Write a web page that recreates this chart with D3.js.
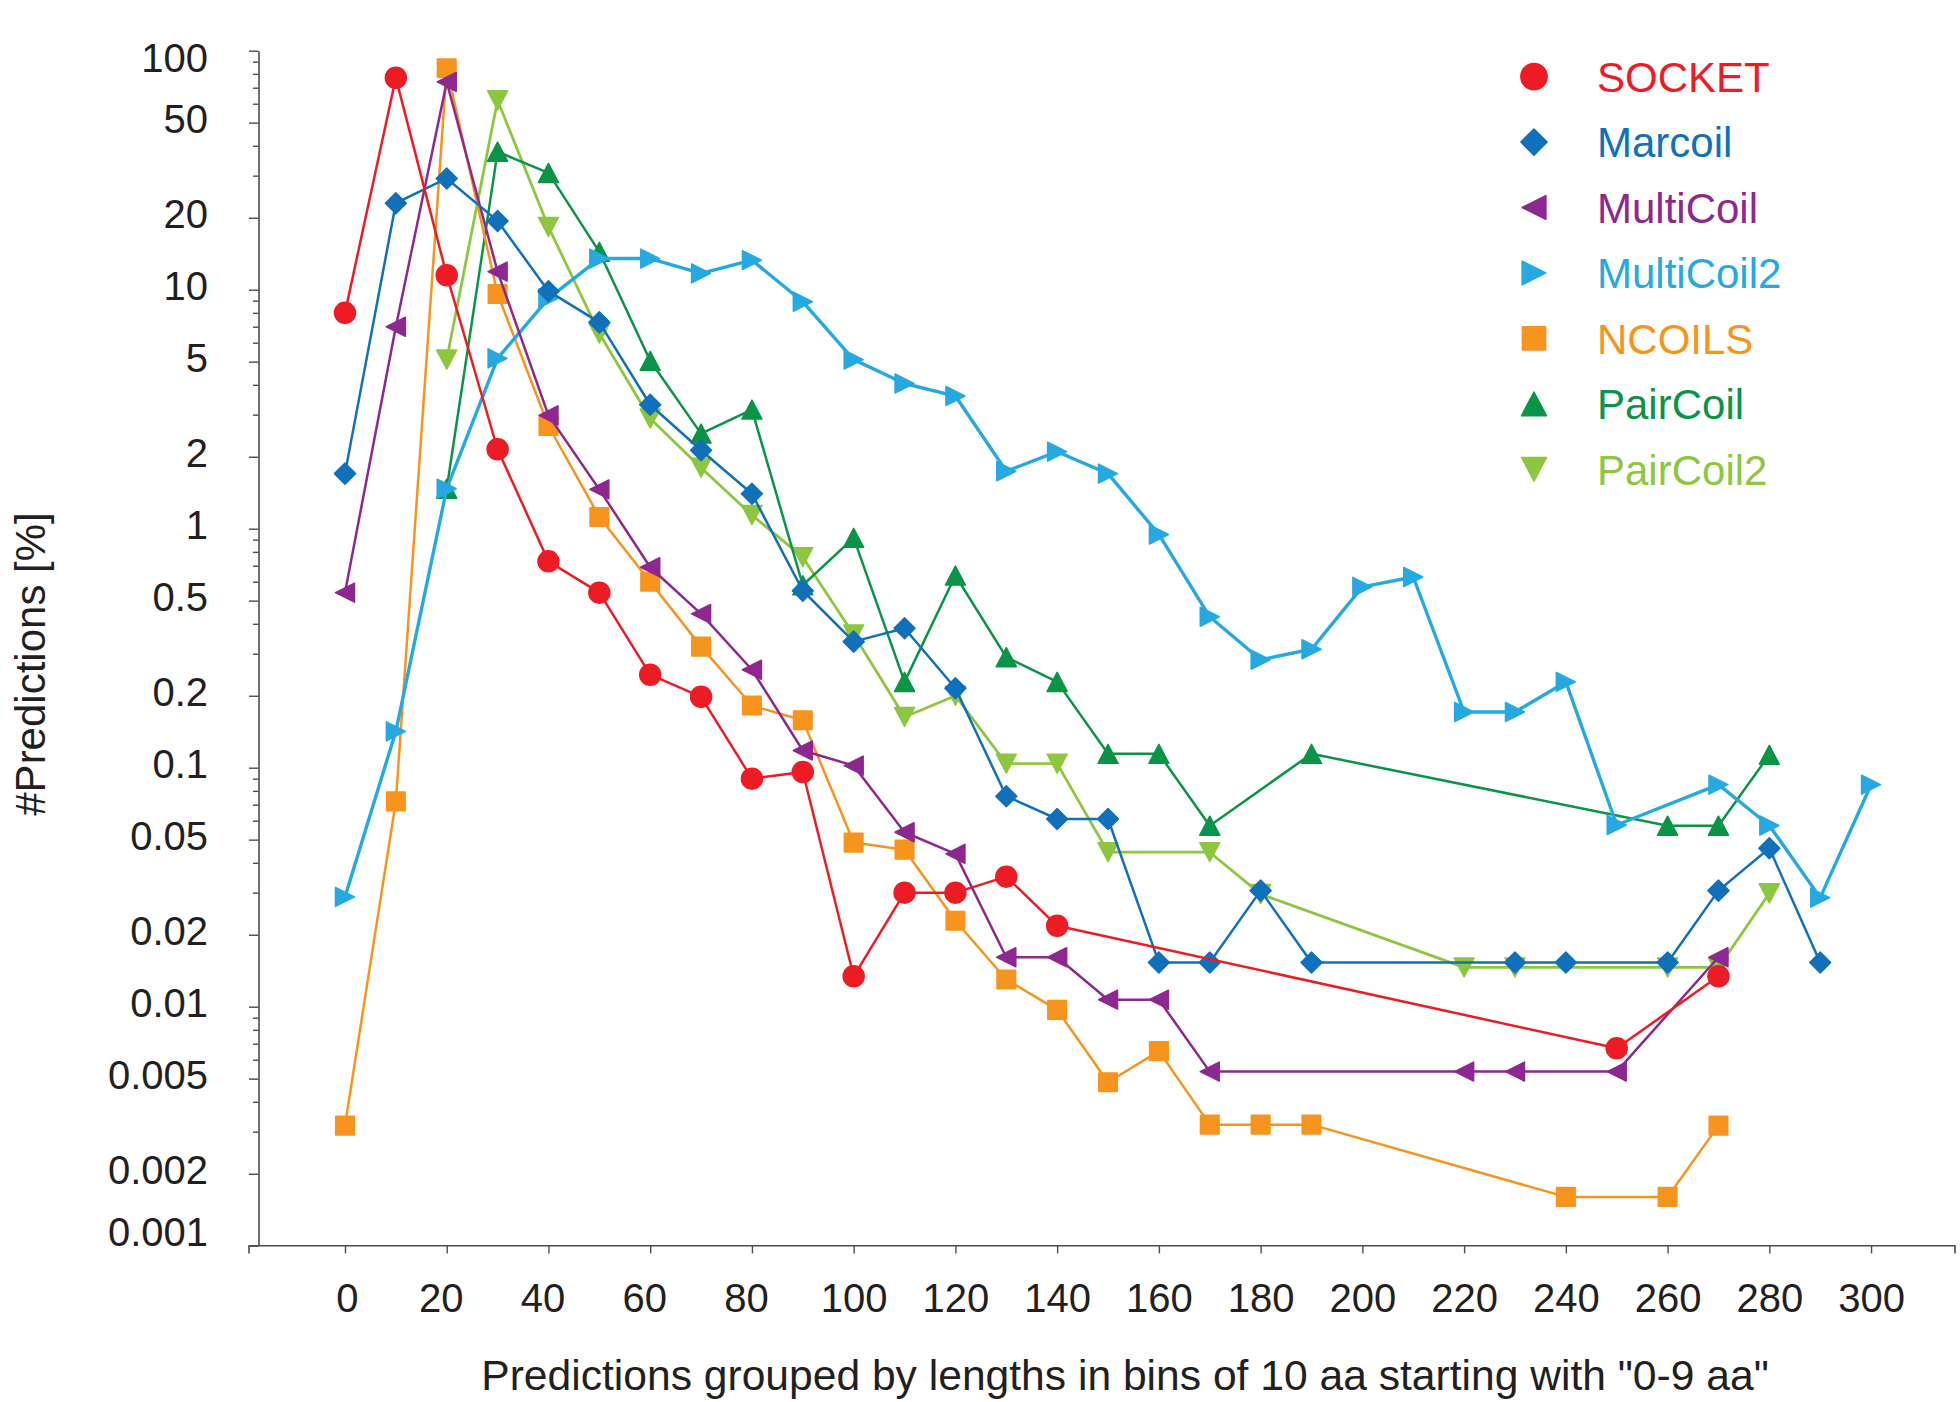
<!DOCTYPE html>
<html>
<head>
<meta charset="utf-8">
<script src="https://cdn.jsdelivr.net/npm/d3@7"></script>
<style>
  body { margin: 0; background: #fff; }
  text { font-family: "Liberation Sans", Arial, Helvetica, sans-serif; }
</style>
</head>
<body>
<svg id="chart" width="1960" height="1402"></svg>
<script>
// bins of 10 aa, value = % of predictions (null = no point in that bin)
var bins = [0,10,20,30,40,50,60,70,80,90,100,110,120,130,140,150,160,170,180,190,200,210,220,230,240,250,260,270,280,290,300];

var socket     = [8.0,77,11.5,2.15,0.73,0.54,0.245,0.198,0.090,0.096,0.0134,0.030,0.030,0.035,0.0218,null,null,null,null,null,null,null,null,null,null,0.0067,null,0.0134,null,null,null];
var marcoil    = [1.70,23.0,29.2,19.4,9.86,7.3,3.3,2.13,1.40,0.55,0.337,0.383,0.215,0.076,0.061,0.061,0.0153,0.0153,0.0306,0.0153,null,null,null,0.0153,0.0153,null,0.0153,0.0306,0.046,0.0153,null];
var multicoil  = [0.54,7.0,74,11.9,2.98,1.46,0.69,0.44,0.257,0.118,0.102,0.0537,0.0436,0.0161,0.0161,0.0107,0.0107,0.00535,null,null,null,null,0.00535,0.00535,null,0.00535,null,0.0161,null,null,null];
var multicoil2 = [0.0288,0.142,1.47,5.16,9.2,13.5,13.5,11.7,13.3,8.9,5.1,4.05,3.59,1.74,2.10,1.70,0.946,0.428,0.283,0.313,0.571,0.628,0.171,0.171,0.2285,0.0576,null,0.0849,0.0573,0.0286,0.0849];
var ncoils     = [0.00318,0.0723,84.4,9.6,2.69,1.12,0.60,0.321,0.182,0.158,0.0486,0.0454,0.0229,0.0130,0.0097,0.00483,0.00652,0.00321,0.00321,0.00321,null,null,null,null,0.0016,null,0.0016,0.00318,null,null,null];
var paircoil   = [null,null,1.47,37.8,30.8,14.4,5.04,2.5,3.15,0.58,0.916,0.2286,0.637,0.29,0.2286,0.1143,0.1143,0.0572,null,0.1143,null,null,null,null,null,null,0.0572,0.0572,0.1132,null,null];
var paircoil2  = [null,null,5.1,62,18.3,6.56,2.89,1.8,1.14,0.76,0.361,0.163,0.20,0.104,0.104,0.0443,null,0.0443,0.0296,null,null,null,0.0146,0.0146,null,null,0.0146,0.0146,0.0298,null,null];

var names  = ["SOCKET","Marcoil","MultiCoil","MultiCoil2","NCOILS","PairCoil","PairCoil2"];
var values = [socket, marcoil, multicoil, multicoil2, ncoils, paircoil, paircoil2];
var shapes = ["circle","diamond","left","right","square","up","down"];
var colours = ["#ED1C24","#1170BA","#8E278F","#26A9E0","#F7941E","#0A9447","#8DC63F"];
var widths = [2.5,2.5,2.5,3.4,2.5,2.5,2.8];

var xTicks = [0,20,40,60,80,100,120,140,160,180,200,220,240,260,280,300];
var yTicks = [100,50,20,10,5,2,1,0.5,0.2,0.1,0.05,0.02,0.01,0.005,0.002,0.001];
var yTickLabels = ["100","50","20","10","5","2","1","0.5","0.2","0.1","0.05","0.02","0.01","0.005","0.002","0.001"];

var svg = d3.select("#chart");

var x = d3.scaleLinear().domain([-17, 316.5]).range([258.5, 1955]);
var y = d3.scaleLog().domain([0.001, 100]).range([1245.7, 50.7]);

function markerPath(shape, s) {
  if (shape == "circle") return "M" + (-10.5*s) + ",0a" + 10.5*s + "," + 10.5*s + " 0 1,0 " + 21*s + ",0a" + 10.5*s + "," + 10.5*s + " 0 1,0 " + (-21*s) + ",0Z";
  if (shape == "diamond") return "M0," + (-10.5*s) + "L" + 10.5*s + ",0L0," + 10.5*s + "L" + (-10.5*s) + ",0Z";
  if (shape == "square") return "M" + (-9.3*s) + "," + (-9.3*s) + "h" + 18.6*s + "v" + 18.6*s + "h" + (-18.6*s) + "Z";
  if (shape == "left") return "M" + (-9.5*s) + ",0L" + 9.5*s + "," + (-9.5*s) + "L" + 9.5*s + "," + 9.5*s + "Z";
  if (shape == "right") return "M" + 9.5*s + ",0L" + (-9.5*s) + "," + (-9.5*s) + "L" + (-9.5*s) + "," + 9.5*s + "Z";
  if (shape == "up") return "M0," + (-9.5*s) + "L" + 10*s + "," + 9.5*s + "L" + (-10*s) + "," + 9.5*s + "Z";
  return "M0," + 9.5*s + "L" + 10*s + "," + (-9.5*s) + "L" + (-10*s) + "," + (-9.5*s) + "Z";
}

// y axis: all log ticks, labels only on 1-2-5
var yAxis = d3.axisLeft(y)
  .tickValues(y.ticks())
  .tickSize(5)
  .tickSizeOuter(0)
  .tickPadding(45.5)
  .tickFormat(function(d) {
    var i = yTicks.findIndex(function(t) { return Math.abs(t - d) / t < 1e-6; });
    return i < 0 ? "" : yTickLabels[i];
  });

var gy = svg.append("g").attr("transform", "translate(" + 258.5 + ",0)").call(yAxis);
gy.select(".domain").attr("stroke", "#4d4d4d").attr("stroke-width", 1.6);
gy.selectAll(".tick line").attr("stroke", "#4d4d4d").attr("stroke-width", 1.4)
  .attr("x2", function(d) {
    return yTicks.some(function(t) { return Math.abs(t - d) / t < 1e-6; }) ? -9.5 : -5.5;
  });
gy.selectAll(".tick text")
  .attr("fill", "#231F20")
  .style("font-size", "40px")
  .attr("dy", function(d) {
    if (Math.abs(d - 100) < 1e-6) return "0.52em";
    if (Math.abs(d - 0.001) < 1e-9) return "0em";
    return "0.25em";
  });

// x axis
var xAxis = d3.axisBottom(x)
  .tickValues(xTicks)
  .tickSize(7.7)
  .tickSizeOuter(7.7)
  .tickPadding(30)
  .tickFormat(d3.format("d"));

var gx = svg.append("g").attr("transform", "translate(0," + 1245.7 + ")").call(xAxis);
gx.select(".domain").attr("stroke", "#4d4d4d").attr("stroke-width", 1.6)
  .attr("d", "M" + 249 + ",7.7V0H" + 1955 + "V7.7");
gx.selectAll(".tick line").attr("stroke", "#4d4d4d").attr("stroke-width", 1.4);
gx.selectAll(".tick text")
  .attr("fill", "#231F20")
  .style("font-size", "40px")
  .attr("dx", function(d) { return (d > 0 && d < 100) ? -6 : (d == 0 ? 2 : 0); });

// axis titles
svg.append("text")
  .attr("x", 1125).attr("y", 1390)
  .attr("text-anchor", "middle")
  .attr("fill", "#231F20")
  .style("font-size", "42.6px")
  .text("Predictions grouped by lengths in bins of 10 aa starting with \"0-9 aa\"");

svg.append("text")
  .attr("transform", "translate(45,664) rotate(-90)")
  .attr("text-anchor", "middle")
  .attr("fill", "#231F20")
  .style("font-size", "42px")
  .text("#Predictions [%]");

// series, drawn last legend entry first so SOCKET ends up on top
var line = d3.line()
  .x(function(d) { return x(d.bin); })
  .y(function(d) { return y(d.v); });

d3.range(names.length - 1, -1, -1).forEach(function(k) {
  var pts = bins.map(function(b, i) { return { bin: b, v: values[k][i] }; })
    .filter(function(d) { return d.v != null; });

  var g = svg.append("g").attr("class", "series " + names[k]);

  g.append("path")
    .datum(pts)
    .attr("d", line)
    .attr("fill", "none")
    .attr("stroke", colours[k])
    .attr("stroke-width", widths[k])
    .attr("stroke-linejoin", "round");

  g.selectAll("path.mark")
    .data(pts)
    .enter()
    .append("path")
    .attr("class", "mark")
    .attr("transform", function(d) { return "translate(" + x(d.bin) + "," + y(d.v) + ")"; })
    .attr("d", markerPath(shapes[k], 1))
    .attr("fill", colours[k])
    .attr("stroke", colours[k])
    .attr("stroke-width", 1.5)
    .attr("stroke-linejoin", "round");
});

// legend
var legend = svg.append("g").attr("class", "legend");
var li = legend.selectAll("g")
  .data(names)
  .enter()
  .append("g")
  .attr("transform", function(d, i) { return "translate(0," + (76.6 + i * 65.45) + ")"; });

li.append("path")
  .attr("transform", "translate(1534,0)")
  .attr("d", function(d, i) { return markerPath(shapes[i], 1.25); })
  .attr("fill", function(d, i) { return colours[i]; })
  .attr("stroke", function(d, i) { return colours[i]; })
  .attr("stroke-width", 1.5)
  .attr("stroke-linejoin", "round");

li.append("text")
  .attr("x", 1597)
  .attr("y", 15.4)
  .attr("fill", function(d, i) { return colours[i]; })
  .style("font-size", "42px")
  .text(function(d) { return d; });
</script>
</body>
</html>
